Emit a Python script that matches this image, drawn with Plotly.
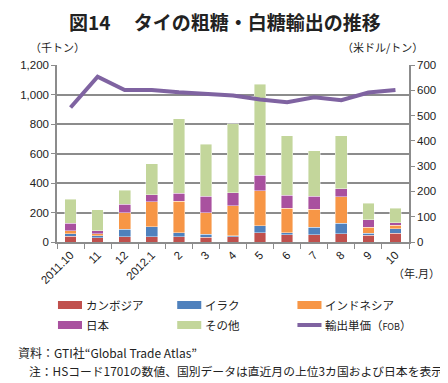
import plotly.graph_objects as go

categories = ["2011.10", "11", "12", "2012.1", "2", "3", "4", "5", "6", "7", "8", "9", "10"]
cambodia = [39, 30, 36, 34, 34, 32, 37, 63, 50, 50, 56, 45, 61]
iraq = [16, 12, 50, 71, 30, 20, 7, 47, 13, 49, 70, 16, 29]
indonesia = [22, 15, 114, 168, 211, 146, 203, 237, 167, 124, 181, 38, 23]
japan = [50, 20, 57, 47, 55, 113, 88, 107, 86, 86, 54, 52, 16]
other = [164, 141, 93, 212, 504, 353, 468, 616, 406, 309, 359, 111, 99]
price = [532, 654, 601, 601, 592, 587, 579, 564, 553, 572, 561, 591, 601]

series = [
    ("カンボジア", cambodia, "#C0504D"),
    ("イラク", iraq, "#4F81BD"),
    ("インドネシア", indonesia, "#F79646"),
    ("日本", japan, "#A9519F"),
    ("その他", other, "#C3D69B"),
]
line_name = "輸出単価（FOB）"
line_color = "#7F63A1"

JP = "Noto Sans CJK JP, Noto Sans, sans-serif"
NUM = "Liberation Sans, Arial, sans-serif"

OFF = 8  # page body margin
W, H = 448 - OFF, 383 - OFF
ML, MR, MT, MB = 47 - OFF, 35, 65 - OFF, 141
PW, PH = W - ML - MR, H - MT - MB


def px(x):
    return (x - OFF - ML) / PW


def py(y):
    return (H - MB - (y - OFF)) / PH


fig = go.Figure()
for name, vals, col in series:
    fig.add_trace(go.Bar(x=categories, y=vals, name=name, marker_color=col,
                         marker_line=dict(width=0.6, color="rgba(255,255,255,0.7)"),
                         showlegend=False))
fig.add_trace(go.Scatter(x=categories, y=price, name=line_name, yaxis="y2", mode="lines",
                         line=dict(color=line_color, width=4), showlegend=False))

grid = "#8C8C8C"
fig.update_layout(
    width=W, height=H,
    margin=dict(l=ML, r=MR, t=MT, b=MB),
    paper_bgcolor="white", plot_bgcolor="white",
    barmode="stack", bargap=0.57,
    font=dict(family=NUM, size=11, color="#222"),
    xaxis=dict(type="category", tickangle=-45, tickson="boundaries", ticks="outside",
               ticklen=5, tickcolor=grid, showline=True, linecolor=grid, linewidth=1.5,
               showgrid=False, tickfont=dict(size=11.5, family=NUM)),
    yaxis=dict(range=[0, 1200], dtick=200, tickformat=",", showgrid=True, gridcolor=grid,
               gridwidth=1.5, showline=True, linecolor=grid, linewidth=1.5, ticks="outside",
               ticklen=4, tickcolor=grid, zeroline=False, tickfont=dict(size=11.5)),
    yaxis2=dict(range=[0, 700], dtick=100, overlaying="y", side="right", showgrid=False,
                showline=True, linecolor=grid, linewidth=1.5, ticks="outside", ticklen=4,
                tickcolor=grid, zeroline=False, tickfont=dict(size=11.5)),
)

ann = []
ann.append(dict(text="<b>図14　 タイの粗糖・白糖輸出の推移</b>", x=px(222), y=py(21),
                font=dict(size=19, family=JP, color="#222")))
ann.append(dict(text="（千トン）", x=px(48), y=py(47), font=dict(size=11, family=JP)))
ann.append(dict(text="（米ドル/トン）", x=px(385), y=py(47), font=dict(size=11, family=JP)))
ann.append(dict(text="（年.月）", x=px(421), y=py(273), font=dict(size=11, family=JP)))

# manual legend
slots = [(48, 305), (172, 305), (297, 305), (48, 325), (172, 325), (297, 325)]
shapes = []
for (name, vals, col), (sx, sy) in zip(series, slots[:5]):
    shapes.append(dict(type="rect", xref="paper", yref="paper", x0=px(sx), x1=px(sx + 25),
                       y0=py(sy + 4), y1=py(sy - 4), fillcolor=col, line=dict(width=0)))
    ann.append(dict(text=name, x=px(sx + 27), y=py(sy), xanchor="left",
                    font=dict(size=11.5, family=JP)))
sx, sy = slots[5]
shapes.append(dict(type="line", xref="paper", yref="paper", x0=px(sx), x1=px(sx + 25),
                   y0=py(sy), y1=py(sy), line=dict(color=line_color, width=4)))
ann.append(dict(text=line_name.replace("FOB", "<span style='font-size:9px'>FOB</span>"),
                x=px(sx + 27), y=py(sy), xanchor="left", font=dict(size=11.5, family=JP)))

ann.append(dict(text="資料：GTI社“Global Trade Atlas”", x=px(4), y=py(352), xanchor="left",
                font=dict(size=12, family=JP)))
ann.append(dict(text="注：HSコード1701の数値、国別データは直近月の上位3カ国および日本を表示",
                x=px(16), y=py(371), xanchor="left", font=dict(size=11.8, family=JP)))

for a in ann:
    a.setdefault("xanchor", "center")
    a.update(xref="paper", yref="paper", showarrow=False, yanchor="middle")

fig.update_layout(annotations=ann, shapes=shapes)
fig.write_html("out.html")
